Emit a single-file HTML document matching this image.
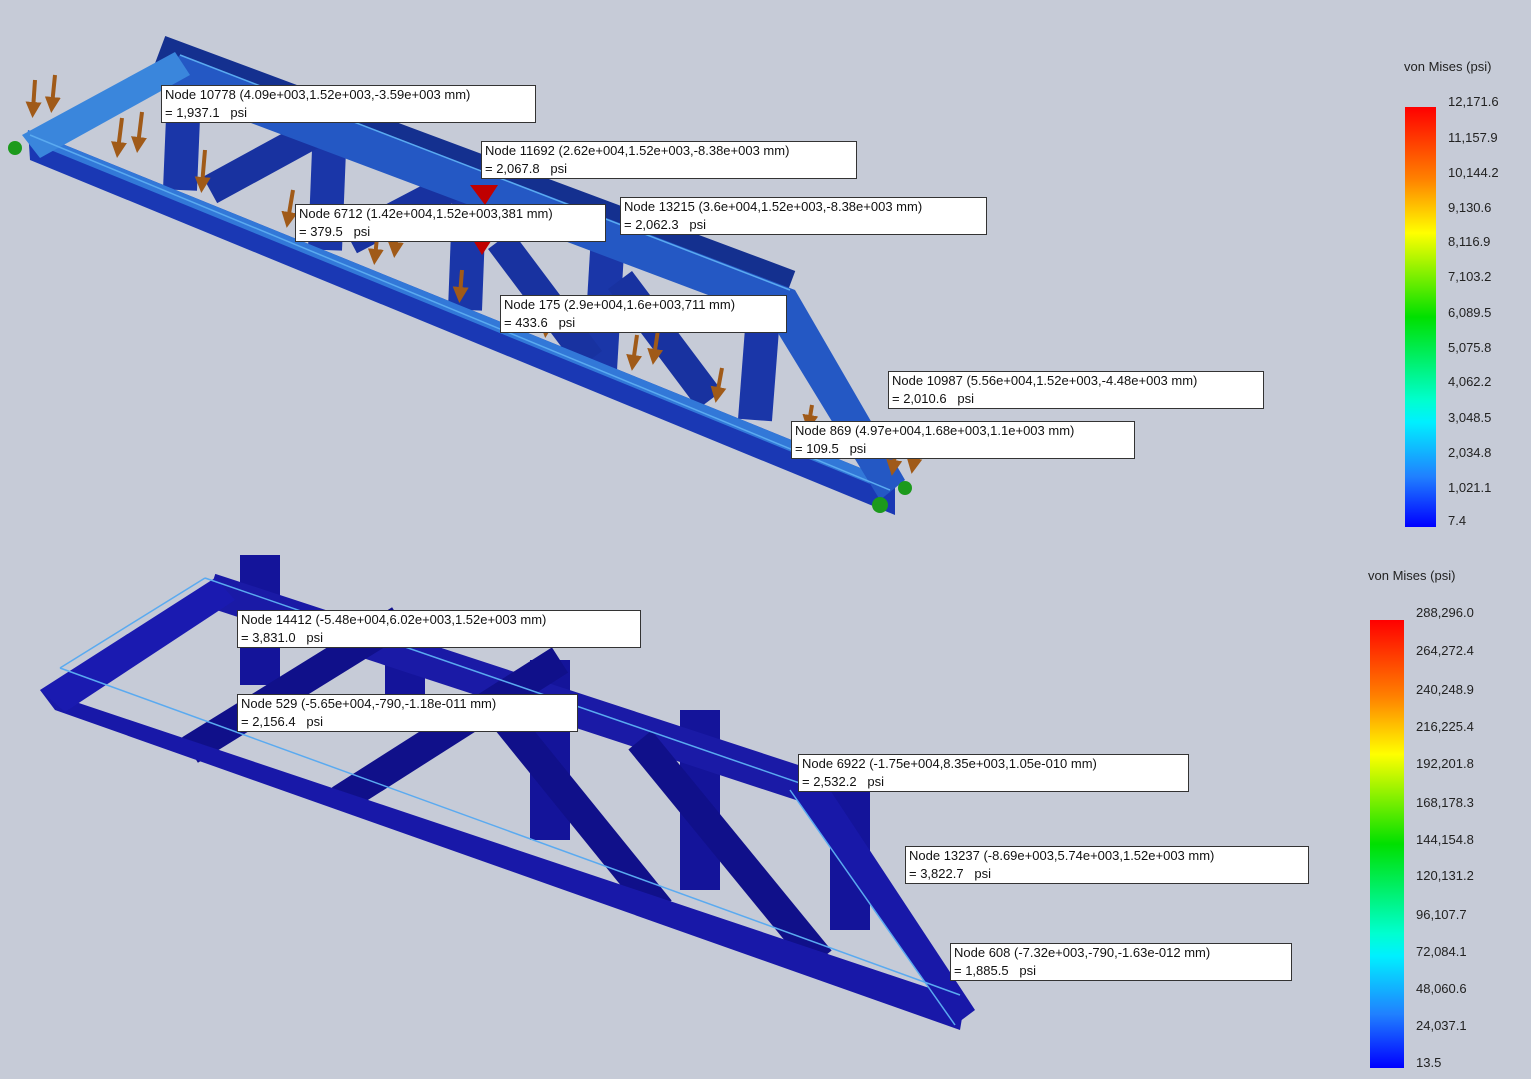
<!DOCTYPE html>
<html><head><meta charset="utf-8"><style>
body{margin:0;background:#c6cbd7;width:1531px;height:1079px;overflow:hidden;font-family:"Liberation Sans",sans-serif}
svg{position:absolute;left:0;top:0}
.lb{position:absolute;background:#fff;border:1px solid #333;font-size:13px;line-height:18px;padding:0 3px;color:#111;white-space:nowrap}
.t{position:absolute;font-size:13px;color:#222}
</style></head><body>
<svg width="1531" height="1079">
<defs>
<linearGradient id="g" x1="0" y1="0" x2="0" y2="1">
<stop offset="0" stop-color="#ff0000"/><stop offset="0.17" stop-color="#ff8000"/><stop offset="0.3" stop-color="#ffff00"/><stop offset="0.5" stop-color="#00e000"/><stop offset="0.7" stop-color="#00ffd0"/><stop offset="0.75" stop-color="#00f0ff"/><stop offset="0.88" stop-color="#2080ff"/><stop offset="1" stop-color="#0000ff"/>
</linearGradient>
<marker id="ah" markerWidth="4" markerHeight="4" refX="2" refY="2" orient="auto" markerUnits="strokeWidth">
<path d="M0,0 L4,2 L0,4 z" fill="#a05a18"/>
</marker>
</defs>
<rect x="1405" y="107" width="31" height="420" fill="url(#g)"/>
<rect x="1370" y="620" width="34" height="448" fill="url(#g)"/>
<!-- TOP TRUSS -->
<g stroke-linecap="butt">
<line x1="160" y1="50" x2="790" y2="285" stroke="#14308f" stroke-width="30"/>
<g stroke="#1a36a8" stroke-width="34">
<line x1="185" y1="70" x2="180" y2="190"/>
<line x1="330" y1="125" x2="325" y2="250"/>
<line x1="470" y1="180" x2="465" y2="310"/>
<line x1="608" y1="235" x2="600" y2="370"/>
<line x1="765" y1="290" x2="755" y2="420"/>
</g>
<g stroke="#1832a0" stroke-width="30">
<line x1="210" y1="190" x2="320" y2="130"/>
<line x1="350" y1="240" x2="455" y2="185"/>
<line x1="500" y1="240" x2="590" y2="360"/>
<line x1="620" y1="280" x2="710" y2="400"/>
</g>
<polygon points="28,130 895,482 895,515 30,160" fill="#1a38b4"/>
<polygon points="28,130 895,482 890,492 26,140" fill="#3278d8"/>
<polygon points="180,55 795,290 780,322 150,85" fill="#2458c4"/>
<polygon points="22,135 175,52 190,75 40,158" fill="#3a86dc"/>
<polygon points="795,290 905,480 880,500 770,320" fill="#2458c4"/>
<polygon points="470,185 498,185 485,205" fill="#c00000"/>
<polygon points="470,235 495,235 482,255" fill="#c00000"/>
<circle cx="15" cy="148" r="7" fill="#1c9a1c"/><circle cx="880" cy="505" r="8" fill="#1c9a1c"/><circle cx="905" cy="488" r="7" fill="#1c9a1c"/>
</g>
<g stroke="#a05a18" stroke-width="4" fill="none" marker-end="url(#ah)">
<line x1="35" y1="80" x2="33" y2="110"/><line x1="55" y1="75" x2="52" y2="105"/>
<line x1="122" y1="118" x2="118" y2="150"/><line x1="142" y1="112" x2="138" y2="145"/>
<line x1="205" y1="150" x2="202" y2="185"/><line x1="293" y1="190" x2="288" y2="220"/>
<line x1="378" y1="228" x2="375" y2="257"/><line x1="398" y1="222" x2="395" y2="250"/>
<line x1="462" y1="270" x2="460" y2="295"/><line x1="548" y1="310" x2="546" y2="330"/>
<line x1="637" y1="335" x2="633" y2="363"/><line x1="658" y1="330" x2="654" y2="357"/>
<line x1="722" y1="368" x2="717" y2="395"/><line x1="812" y1="405" x2="809" y2="423"/>
<line x1="895" y1="455" x2="893" y2="468"/><line x1="915" y1="455" x2="913" y2="466"/>
</g>
<!-- BOTTOM TRUSS -->
<g fill="#14149a">
<rect x="240" y="555" width="40" height="130"/>
<rect x="385" y="610" width="40" height="120"/>
<rect x="530" y="660" width="40" height="180"/>
<rect x="680" y="710" width="40" height="180"/>
<rect x="830" y="770" width="40" height="160"/>
</g>
<g stroke-linecap="butt">
<line x1="210" y1="590" x2="820" y2="790" stroke="#1a1aa6" stroke-width="34"/>
<g stroke="#10108a" stroke-width="30">
<line x1="190" y1="750" x2="400" y2="620"/>
<line x1="340" y1="800" x2="560" y2="660"/>
<line x1="490" y1="700" x2="660" y2="910"/>
<line x1="640" y1="740" x2="820" y2="960"/>
</g>
<polygon points="40,690 965,1000 960,1030 55,710" fill="#1818a8"/>
<polygon points="40,690 215,578 235,600 65,712" fill="#1a1ab0"/>
<polygon points="790,790 830,790 975,1010 955,1025" fill="#1818a8"/>
</g>
<g stroke="#5aaaf0" stroke-width="1.5" fill="none">
<line x1="60" y1="668" x2="960" y2="995"/><line x1="205" y1="578" x2="820" y2="790"/>
<line x1="60" y1="668" x2="205" y2="578"/><line x1="790" y1="790" x2="955" y2="1025"/>
<line x1="180" y1="55" x2="790" y2="290"/><line x1="30" y1="135" x2="890" y2="490"/>
</g>
</svg>
<div class="t" style="left:1404px;top:59px">von Mises (psi)</div>
<div class="t" style="left:1448px;top:94px">12,171.6</div>
<div class="t" style="left:1448px;top:130px">11,157.9</div>
<div class="t" style="left:1448px;top:165px">10,144.2</div>
<div class="t" style="left:1448px;top:200px">9,130.6</div>
<div class="t" style="left:1448px;top:234px">8,116.9</div>
<div class="t" style="left:1448px;top:269px">7,103.2</div>
<div class="t" style="left:1448px;top:305px">6,089.5</div>
<div class="t" style="left:1448px;top:340px">5,075.8</div>
<div class="t" style="left:1448px;top:374px">4,062.2</div>
<div class="t" style="left:1448px;top:410px">3,048.5</div>
<div class="t" style="left:1448px;top:445px">2,034.8</div>
<div class="t" style="left:1448px;top:480px">1,021.1</div>
<div class="t" style="left:1448px;top:513px">7.4</div>
<div class="t" style="left:1368px;top:568px">von Mises (psi)</div>
<div class="t" style="left:1416px;top:605px">288,296.0</div>
<div class="t" style="left:1416px;top:643px">264,272.4</div>
<div class="t" style="left:1416px;top:682px">240,248.9</div>
<div class="t" style="left:1416px;top:719px">216,225.4</div>
<div class="t" style="left:1416px;top:756px">192,201.8</div>
<div class="t" style="left:1416px;top:795px">168,178.3</div>
<div class="t" style="left:1416px;top:832px">144,154.8</div>
<div class="t" style="left:1416px;top:868px">120,131.2</div>
<div class="t" style="left:1416px;top:907px">96,107.7</div>
<div class="t" style="left:1416px;top:944px">72,084.1</div>
<div class="t" style="left:1416px;top:981px">48,060.6</div>
<div class="t" style="left:1416px;top:1018px">24,037.1</div>
<div class="t" style="left:1416px;top:1055px">13.5</div>
<div class="lb" style="left:161px;top:85px;width:367px">Node 10778 (4.09e+003,1.52e+003,-3.59e+003 mm)<br> = 1,937.1 &nbsp; psi</div>
<div class="lb" style="left:481px;top:141px;width:368px">Node 11692 (2.62e+004,1.52e+003,-8.38e+003 mm)<br> = 2,067.8 &nbsp; psi</div>
<div class="lb" style="left:295px;top:204px;width:303px">Node 6712 (1.42e+004,1.52e+003,381 mm)<br> = 379.5 &nbsp; psi</div>
<div class="lb" style="left:620px;top:197px;width:359px">Node 13215 (3.6e+004,1.52e+003,-8.38e+003 mm)<br> = 2,062.3 &nbsp; psi</div>
<div class="lb" style="left:500px;top:295px;width:279px">Node 175 (2.9e+004,1.6e+003,711 mm)<br> = 433.6 &nbsp; psi</div>
<div class="lb" style="left:888px;top:371px;width:368px">Node 10987 (5.56e+004,1.52e+003,-4.48e+003 mm)<br> = 2,010.6 &nbsp; psi</div>
<div class="lb" style="left:791px;top:421px;width:336px">Node 869 (4.97e+004,1.68e+003,1.1e+003 mm)<br> = 109.5 &nbsp; psi</div>
<div class="lb" style="left:237px;top:610px;width:396px">Node 14412 (-5.48e+004,6.02e+003,1.52e+003 mm)<br> = 3,831.0 &nbsp; psi</div>
<div class="lb" style="left:237px;top:694px;width:333px">Node 529 (-5.65e+004,-790,-1.18e-011 mm)<br> = 2,156.4 &nbsp; psi</div>
<div class="lb" style="left:798px;top:754px;width:383px">Node 6922 (-1.75e+004,8.35e+003,1.05e-010 mm)<br> = 2,532.2 &nbsp; psi</div>
<div class="lb" style="left:905px;top:846px;width:396px">Node 13237 (-8.69e+003,5.74e+003,1.52e+003 mm)<br> = 3,822.7 &nbsp; psi</div>
<div class="lb" style="left:950px;top:943px;width:334px">Node 608 (-7.32e+003,-790,-1.63e-012 mm)<br> = 1,885.5 &nbsp; psi</div>
</body></html>
